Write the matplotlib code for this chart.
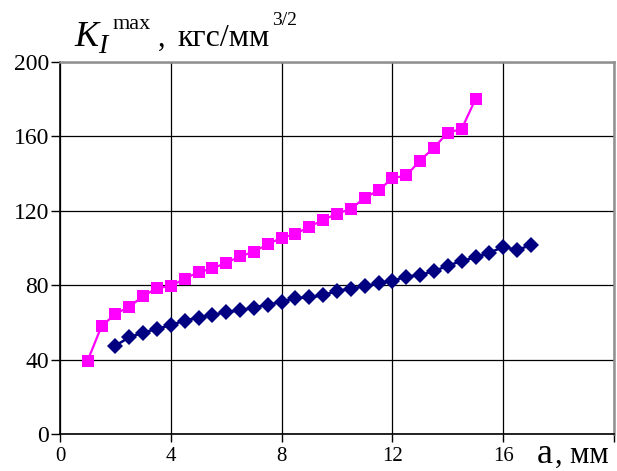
import matplotlib
matplotlib.use("Agg")
import matplotlib.pyplot as plt

plt.rcParams['font.family'] = ['Liberation Serif', 'DejaVu Serif']

# crack length a, mm and K_I max, kgf/mm^3/2
a_pink = [1.0, 1.5, 2.0, 2.5, 3.0, 3.5, 4.0, 4.5, 5.0, 5.5, 6.0, 6.5, 7.0, 7.5,
          8.0, 8.5, 9.0, 9.5, 10.0, 10.5, 11.0, 11.5, 12.0, 12.5, 13.0, 13.5,
          14.0, 14.5, 15.0]
k_pink = [39.5, 58, 64.5, 68.5, 74, 78.5, 79.5, 83.5, 87, 89, 92, 95.5, 98, 102,
          105.5, 107.5, 111.5, 115, 118.5, 121, 127, 131, 137.5, 139, 147, 154,
          162, 164, 180]

a_blue = [2.0, 2.5, 3.0, 3.5, 4.0, 4.5, 5.0, 5.5, 6.0, 6.5, 7.0, 7.5, 8.0, 8.5,
          9.0, 9.5, 10.0, 10.5, 11.0, 11.5, 12.0, 12.5, 13.0, 13.5, 14.0, 14.5,
          15.0, 15.5, 16.0, 16.5, 17.0]
k_blue = [47.5, 52, 54.5, 56.5, 58.5, 61, 62.5, 64, 65.5, 66.5, 68, 69.5, 71, 73,
          73.5, 74.5, 77, 78, 79.5, 81, 82.5, 84.5, 85.5, 87.5, 90.5, 93, 95,
          97.5, 100.5, 99, 101.5]

x_ticks = [0, 4, 8, 12, 16, 20]
x_labels = ['0', '4', '8', '12', '16', '']
y_ticks = [0, 40, 80, 120, 160, 200]

W, H = 617, 471
fig = plt.figure(figsize=(W / 100, H / 100), dpi=100)
ax = fig.add_axes([60 / W, 1 - 434 / H, 554 / W, 372 / H])

ax.plot(a_pink, k_pink, color='#FF00FF', lw=1.6, marker='s', markersize=8.5,
        markeredgewidth=0, zorder=3)
ax.plot(a_blue, k_blue, color='#000080', lw=1.8, marker='D', markersize=8.5,
        markeredgewidth=0, zorder=3)

ax.set_xlim(0, 20)
ax.set_ylim(0, 200)
ax.set_xticks(x_ticks)
ax.set_xticklabels(x_labels)
ax.set_yticks(y_ticks)
ax.tick_params(width=1, direction='out', color='black')
ax.tick_params(axis='x', length=6, pad=3.5, labelsize=15)
ax.tick_params(axis='y', length=6.5, pad=1.5, labelsize=17)
ax.grid(True, color='black', lw=0.9)
ax.set_axisbelow(True)

for side in ['top', 'right']:
    ax.spines[side].set_color('#909090')
    ax.spines[side].set_linewidth(1.8)
for side in ['left', 'bottom']:
    ax.spines[side].set_color('black')
    ax.spines[side].set_linewidth(1.2)


def ftext(x, y, s, size, **kw):
    fig.text(x / W, 1 - y / H, s, fontsize=size, va='baseline', **kw)


# y axis title: K_I^max , кгс/мм^3/2
ftext(74, 46, 'K', 26, style='italic')
ftext(98, 53, 'I', 20, style='italic')
ftext(113, 29, 'max', 16)
ftext(158, 46, ',', 22)
ftext(177, 46, 'кгс/мм', 23)
ftext(272, 25, '3/2', 14)

# x axis title
ftext(537, 463, 'a', 26)
ftext(555, 463, ', мм', 22)

fig.savefig('out.png', dpi=100)
